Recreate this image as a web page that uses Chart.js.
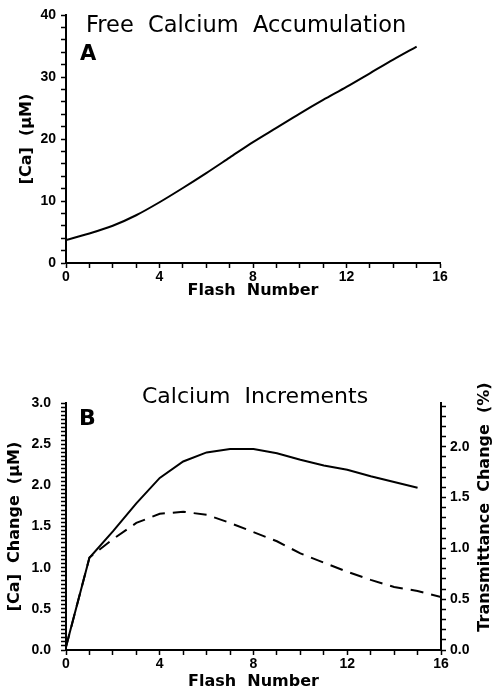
<!DOCTYPE html>
<html>
<head>
<meta charset="utf-8">
<script src="https://cdn.jsdelivr.net/npm/chart.js@4"></script>
<style>
  html, body { margin: 0; padding: 0; background: #fff; }
  body { width: 494px; height: 691px; position: relative; overflow: hidden; }
  canvas { position: absolute; left: 0; }
  #chartA { top: 0; }
  #chartB { top: 360px; }
</style>
</head>
<body>
<canvas id="chartA" width="494" height="300"></canvas>
<canvas id="chartB" width="494" height="331"></canvas>
<script>
// Panel A: free calcium accumulation per flash
const flashA = [0, 1, 2, 3, 4, 5, 6, 7, 8, 9, 10, 11, 12, 13, 14, 15];
const freeCa = [3.7, 4.75, 6.0, 7.7, 9.8, 12.1, 14.5, 17.0, 19.5, 21.8, 24.1, 26.3, 28.4, 30.6, 32.8, 34.9];

// Panel B: calcium increments (solid, left axis) and transmittance change (dashed, right axis)
const flashB = [0, 1, 2, 3, 4, 5, 6, 7, 8, 9, 10, 11, 12, 13, 14, 15];
const caChange = [0.04, 1.12, 1.44, 1.78, 2.09, 2.29, 2.40, 2.44, 2.44, 2.39, 2.31, 2.24, 2.19, 2.11, 2.04, 1.97];
const flashT = [0, 1, 2, 3, 4, 5, 6, 7, 8, 9, 10, 11, 12, 13, 14, 15, 16];
const transChange = [0.03, 0.91, 1.09, 1.25, 1.34, 1.36, 1.33, 1.25, 1.16, 1.07, 0.95, 0.86, 0.77, 0.69, 0.62, 0.58, 0.52];

// labelled (major) ticks; minor marks fill in between at the given step
const xTicks = [0, 4, 8, 12, 16];
const caTicksA = [0, 10, 20, 30, 40];
const caTicksB = [0, 0.5, 1.0, 1.5, 2.0, 2.5, 3.0];
const transTicks = [0, 0.5, 1.0, 1.5, 2.0];

const tickFont = { family: 'Liberation Sans', size: 14, weight: 'bold' };
const titleFont = { family: 'DejaVu Sans', size: 16, weight: 'bold' };

function toPoints(xs, ys) {
  return xs.map((x, i) => ({ x, y: ys[i] }));
}

// all tick positions (minor + major) from min to max
function tickRange(min, max, step) {
  const out = [];
  const n = Math.floor((max - min) / step + 1e-6);
  for (let i = 0; i <= n; i++) out.push(Math.round((min + i * step) * 1000) / 1000);
  return s => { s.ticks = out.map(v => ({ value: v })); };
}

// label only the major ticks
function majorLabel(list, digits) {
  return v => {
    const hit = list.some(m => Math.abs(m - v) < 1e-6);
    if (!hit) return '';
    return digits ? v.toFixed(digits) : String(v);
  };
}

// panel titles, letters and the bottom-to-top right axis title
function makePanelText(name, items) {
  return {
    id: name,
    afterDraw(chart) {
      const ctx = chart.ctx;
      ctx.save();
      ctx.fillStyle = '#000';
      items.forEach(t => {
        ctx.save();
        ctx.font = t.font;
        ctx.translate(t.x, t.y);
        if (t.rotate) ctx.rotate(t.rotate);
        ctx.textAlign = t.align || 'left';
        ctx.textBaseline = t.baseline || 'alphabetic';
        ctx.fillText(t.text, 0, 0);
        ctx.restore();
      });
      ctx.restore();
    }
  };
}

// fixed box sizes so the plot areas land where the figure has them
function fixWidth(w) {
  return s => { s.width = w; s.paddingTop = 0; s.paddingBottom = 0; };
}
function fixHeight(h) {
  return s => { s.height = h; s.paddingLeft = 0; s.paddingRight = 0; };
}

function axisBase() {
  return {
    type: 'linear',
    grid: {
      display: true,
      drawOnChartArea: false,
      drawTicks: true,
      tickLength: 5,
      tickWidth: 1.5,
      tickColor: '#000',
    },
    border: { display: true, color: '#000', width: 2 },
  };
}

document.addEventListener('DOMContentLoaded', () => {
  Chart.defaults.color = '#000';

  new Chart(document.getElementById('chartA').getContext('2d'), {
    type: 'line',
    data: {
      datasets: [{
        data: toPoints(flashA, freeCa),
        borderColor: '#000',
        borderWidth: 2,
        pointRadius: 0,
        tension: 0.3,
        fill: false,
      }]
    },
    options: {
      responsive: false,
      animation: false,
      devicePixelRatio: 1,
      layout: { padding: { left: 0, right: 54, top: 15, bottom: 0 } },
      plugins: {
        legend: { display: false },
        tooltip: { enabled: false },
      },
      scales: {
        x: Object.assign(axisBase(), {
          min: 0, max: 16,
          afterFit: fixHeight(37),
          afterBuildTicks: tickRange(0, 16, 1),
          ticks: { font: tickFont, padding: 1, maxRotation: 0, autoSkip: false, callback: majorLabel(xTicks) },
          title: { display: true, text: 'Flash  Number', font: titleFont, padding: { top: 0, bottom: 0 } },
        }),
        y: Object.assign(axisBase(), {
          min: 0, max: 40,
          afterFit: fixWidth(66),
          afterBuildTicks: tickRange(0, 40, 2),
          ticks: { font: tickFont, padding: 5, autoSkip: false, callback: majorLabel(caTicksA) },
          title: { display: true, text: '[Ca]  (μM)', font: titleFont, padding: { top: 17, bottom: 0 } },
        }),
      }
    },
    plugins: [
      makePanelText('panelTextA', [
        { text: 'Free  Calcium  Accumulation', x: 86, y: 32, font: '22.5px "DejaVu Sans"' },
        { text: 'A', x: 80, y: 60, font: 'bold 21px "DejaVu Sans"' },
      ])
    ]
  });

  new Chart(document.getElementById('chartB').getContext('2d'), {
    type: 'line',
    data: {
      datasets: [{
        data: toPoints(flashB, caChange),
        yAxisID: 'y',
        borderColor: '#000',
        borderWidth: 2,
        pointRadius: 0,
        tension: 0,
        fill: false,
      }, {
        data: toPoints(flashT, transChange),
        yAxisID: 'y1',
        borderColor: '#000',
        borderWidth: 2,
        borderDash: [13, 8],
        pointRadius: 0,
        tension: 0,
        fill: false,
      }]
    },
    options: {
      responsive: false,
      animation: false,
      devicePixelRatio: 1,
      layout: { padding: { left: 0, right: 0, top: 43, bottom: 0 } },
      plugins: {
        legend: { display: false },
        tooltip: { enabled: false },
      },
      scales: {
        x: Object.assign(axisBase(), {
          min: 0, max: 16,
          afterFit: fixHeight(41),
          afterBuildTicks: tickRange(0, 16, 1),
          ticks: { font: tickFont, padding: 1, maxRotation: 0, autoSkip: false, callback: majorLabel(xTicks) },
          title: { display: true, text: 'Flash  Number', font: titleFont, padding: { top: 0, bottom: 0 } },
        }),
        y: Object.assign(axisBase(), {
          position: 'left',
          min: 0, max: 3,
          afterFit: fixWidth(66),
          afterBuildTicks: tickRange(0, 3, 0.05),
          ticks: { font: tickFont, padding: 10, autoSkip: false, callback: majorLabel(caTicksB, 1) },
          title: { display: true, text: '[Ca]  Change  (μM)', font: titleFont, padding: { top: 5, bottom: 0 } },
        }),
        y1: Object.assign(axisBase(), {
          position: 'right',
          min: 0, max: 2.43,
          afterFit: fixWidth(53),
          afterBuildTicks: tickRange(0, 2.4, 0.1),
          ticks: { font: tickFont, padding: 4, autoSkip: false, callback: majorLabel(transTicks, 1) },
        }),
      }
    },
    plugins: [
      makePanelText('panelTextB', [
        { text: 'Calcium  Increments', x: 142, y: 43, font: '22px "DejaVu Sans"' },
        { text: 'B', x: 79, y: 65, font: 'bold 22px "DejaVu Sans"' },
        { text: 'Transmittance  Change  (%)', x: 485, y: 147, rotate: -Math.PI / 2,
          align: 'center', baseline: 'middle', font: 'bold 16px "DejaVu Sans"' },
      ])
    ]
  });
});
</script>
</body>
</html>
